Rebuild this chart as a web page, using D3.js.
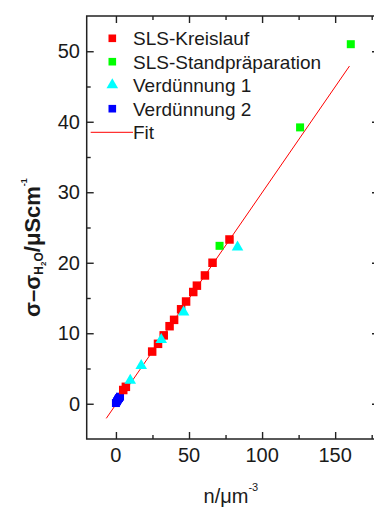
<!DOCTYPE html>
<html>
<head>
<meta charset="utf-8">
<script src="https://cdn.jsdelivr.net/npm/d3@7"></script>
<style>
    body { margin: 0; background: #fff; }
    text { font-family: "Liberation Sans", Arial, sans-serif; fill: #1a1a1a; }
</style>
</head>
<body>
<div id="chart"></div>
<script>
// values
var kreislaufN = [5.0, 6.8, 24.8, 28.8, 32.7, 36.7, 39.8, 44.6, 48.0, 52.9, 55.4, 60.9, 66.1, 77.7];
var kreislaufSigma = [1.95, 2.4, 7.4, 8.5, 9.7, 11.0, 11.9, 13.4, 14.5, 15.85, 16.75, 18.2, 20.0, 23.3];
var standN = [70.9, 126.0, 160.7];
var standSigma = [22.4, 39.2, 51.0];
var verd1N = [9.8, 17.3, 31.0, 46.3, 83.2];
var verd1Sigma = [3.3, 5.4, 9.1, 13.0, 22.2];
var verd2N = [0.0, 0.7, 1.4, 2.1, 2.8];
var verd2Sigma = [0.1, 0.35, 0.6, 0.8, 1.0];
var fitN = [-6.6, 159.8];
var fitSigma = [-2.07, 47.9];

var xMajor = [0, 50, 100, 150];
var xMinor = [25, 75, 125, 175];
var yMajor = [0, 10, 20, 30, 40, 50];
var yMinor = [5, 15, 25, 35, 45];

var legendNames = ["SLS-Kreislauf", "SLS-Standpräparation", "Verdünnung 1", "Verdünnung 2", "Fit"];

var scatterChart = function (id) {
    this.divElementId = "#" + id;
    this.width = 374;
    this.height = 507;
    this.left = 86.7;
    this.right = 379;
    this.top = 16;
    this.bottom = 439;
};

scatterChart.prototype.createSvg = function () {
    this.svg = d3.select(this.divElementId)
        .append("svg")
        .attr("width", this.width)
        .attr("height", this.height);
    this.x = d3.scaleLinear().domain([-20, 180]).range([this.left, this.right]);
    this.y = d3.scaleLinear().domain([-5, 55]).range([this.bottom, this.top]);
};

scatterChart.prototype.createAxes = function () {
    var that = this;
    var frame = "#222";

    function ticks(axis, vals, len, transform) {
        var g = that.svg.append("g")
            .attr("transform", transform)
            .call(axis.tickValues(vals).tickSize(len).tickFormat(""));
        g.select(".domain").remove();
        g.selectAll("line").attr("stroke", frame).attr("stroke-width", 1.4);
    }

    // ticks point inward on all four sides
    var b = "translate(0," + this.bottom + ")";
    var t = "translate(0," + this.top + ")";
    var l = "translate(" + this.left + ",0)";
    var r = "translate(" + this.right + ",0)";
    ticks(d3.axisTop(this.x), xMajor, 7, b);
    ticks(d3.axisTop(this.x), xMinor, 4, b);
    ticks(d3.axisBottom(this.x), xMajor, 7, t);
    ticks(d3.axisBottom(this.x), xMinor, 4, t);
    ticks(d3.axisRight(this.y), yMajor, 7, l);
    ticks(d3.axisRight(this.y), yMinor, 4, l);
    ticks(d3.axisLeft(this.y), yMajor, 7, r);
    ticks(d3.axisLeft(this.y), yMinor, 4, r);

    this.svg.append("rect")
        .attr("x", this.left).attr("y", this.top)
        .attr("width", this.right - this.left).attr("height", this.bottom - this.top)
        .attr("fill", "none").attr("stroke", frame).attr("stroke-width", 1.5);

    this.svg.selectAll(".xlab").data(xMajor).enter().append("text")
        .attr("class", "xlab")
        .attr("x", function (d) { return that.x(d); })
        .attr("y", 462)
        .attr("text-anchor", "middle")
        .attr("font-size", "20px")
        .text(function (d) { return d; });

    this.svg.selectAll(".ylab").data(yMajor).enter().append("text")
        .attr("class", "ylab")
        .attr("x", 80)
        .attr("y", function (d) { return that.y(d); })
        .attr("dy", "0.36em")
        .attr("text-anchor", "end")
        .attr("font-size", "20px")
        .text(function (d) { return d; });

    var xt = this.svg.append("text")
        .attr("x", (this.left + this.right) / 2 - 2)
        .attr("y", 502.5)
        .attr("text-anchor", "middle")
        .attr("font-size", "20px");
    xt.append("tspan").text("n/μm");
    xt.append("tspan").attr("font-size", "11px").attr("dy", -12).text("-3");

    var yt = this.svg.append("text")
        .attr("transform", "translate(40,317) rotate(-90)")
        .attr("font-size", "22px")
        .attr("font-weight", "bold");
    yt.append("tspan").text("σ–σ");
    yt.append("tspan").attr("font-size", "12px").attr("dy", 3).text("H");
    yt.append("tspan").attr("font-size", "8px").attr("dy", 3).text("2");
    yt.append("tspan").attr("font-size", "12px").attr("dy", -3).text("O");
    yt.append("tspan").attr("dy", -3).text("/μScm");
    yt.append("tspan").attr("font-size", "9px").attr("dy", -13).text("-1");
};

scatterChart.prototype.createGraph = function () {
    var that = this;
    var line = d3.line()
        .x(function (d) { return that.x(d[0]); })
        .y(function (d) { return that.y(d[1]); });

    this.svg.append("path")
        .datum(d3.zip(fitN, fitSigma))
        .attr("d", line)
        .attr("fill", "none")
        .attr("stroke", "#ff0000")
        .attr("stroke-width", 1);

    function squares(ns, vs, color, size) {
        that.svg.append("g").selectAll("rect")
            .data(d3.zip(ns, vs))
            .enter()
            .append("rect")
            .attr("x", function (d) { return that.x(d[0]) - size / 2; })
            .attr("y", function (d) { return that.y(d[1]) - size / 2; })
            .attr("width", size)
            .attr("height", size)
            .attr("fill", color);
    }

    squares(verd2N, verd2Sigma, "#0000ff", 8);
    squares(kreislaufN, kreislaufSigma, "#ff0000", 8.5);
    squares(standN, standSigma, "#00ff00", 8);

    this.svg.append("g").selectAll("path")
        .data(d3.zip(verd1N, verd1Sigma))
        .enter()
        .append("path")
        .attr("d", d3.symbol().type(d3.symbolTriangle).size(58))
        .attr("transform", function (d) { return "translate(" + that.x(d[0]) + "," + that.y(d[1]) + ")"; })
        .attr("fill", "#00ffff");
};

scatterChart.prototype.createLegend = function () {
    var that = this;
    var rows = [38.3, 61.7, 85, 108.7, 132.3];
    var colors = ["#ff0000", "#00ff00", "#00ffff", "#0000ff", "#ff0000"];

    this.svg.selectAll(".legtext").data(legendNames).enter().append("text")
        .attr("class", "legtext")
        .attr("x", 133)
        .attr("y", function (d, i) { return rows[i]; })
        .attr("dy", "0.36em")
        .attr("font-size", "19px")
        .text(function (d) { return d; });

    [0, 1, 3].forEach(function (i) {
        that.svg.append("rect")
            .attr("x", 112.3 - 3.8).attr("y", rows[i] - 3.8)
            .attr("width", 7.6).attr("height", 7.6)
            .attr("fill", colors[i]);
    });
    this.svg.append("path")
        .attr("d", d3.symbol().type(d3.symbolTriangle).size(58))
        .attr("transform", "translate(112.3," + rows[2] + ")")
        .attr("fill", colors[2]);
    this.svg.append("line")
        .attr("x1", 90.7).attr("x2", 133)
        .attr("y1", rows[4]).attr("y2", rows[4])
        .attr("stroke", colors[4]).attr("stroke-width", 1);
};

var chart = new scatterChart("chart");
chart.createSvg();
chart.createAxes();
chart.createGraph();
chart.createLegend();
</script>
</body>
</html>
